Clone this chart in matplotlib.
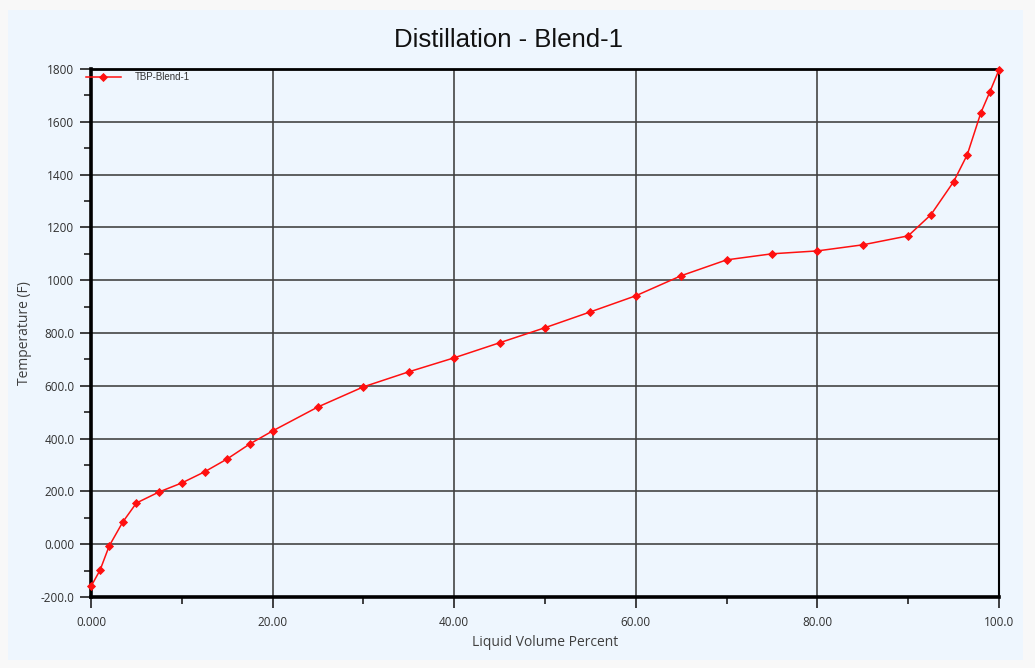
import matplotlib
matplotlib.use("Agg")
import matplotlib.pyplot as plt
from matplotlib.patches import Rectangle
from matplotlib.ticker import MultipleLocator, FixedLocator, FixedFormatter

volume_pct = [0, 1, 2, 3.5, 5, 7.5, 10, 12.5, 15, 17.5, 20, 25, 30, 35, 40, 45, 50,
              55, 60, 65, 70, 75, 80, 85, 90, 92.5, 95, 96.5, 98, 99, 100]
temperature_f = [-160, -98, -7, 84, 156, 198, 232, 274, 323, 380, 429, 520, 596, 653,
                 706, 763, 820, 880, 941, 1017, 1077, 1100, 1111, 1134, 1168, 1248,
                 1373, 1475, 1634, 1714, 1797]
series_name = "TBP-Blend-1"

x_ticks = [0, 20, 40, 60, 80, 100]
x_tick_labels = ["0.000", "20.00", "40.00", "60.00", "80.00", "100.0"]
y_ticks = [-200, 0, 200, 400, 600, 800, 1000, 1200, 1400, 1600, 1800]
y_tick_labels = ["-200.0", "0.000", "200.0", "400.0", "600.0", "800.0",
                 "1000", "1200", "1400", "1600", "1800"]

bg = "#eef6fe"
fig = plt.figure(figsize=(10.35, 6.68), dpi=100, facecolor="#f8f8f8")
fig.patches.append(Rectangle((8/1035, 1-660/668), (1023-8)/1035, (660-10)/668,
                             transform=fig.transFigure, facecolor=bg,
                             edgecolor="none", zorder=-10))
ax = fig.add_axes([91/1035, 1-597/668, (999-91)/1035, (597-69)/668])
ax.set_facecolor(bg)

ax.plot(volume_pct, temperature_f, color="#ff1010", lw=1.1, marker="D",
        markersize=4, markeredgewidth=0.6, label=series_name, zorder=5,
        clip_on=False)

ax.set_xlim(0, 100)
ax.set_ylim(-200, 1800)
ax.xaxis.set_major_locator(FixedLocator(x_ticks))
ax.xaxis.set_major_formatter(FixedFormatter(x_tick_labels))
ax.yaxis.set_major_locator(FixedLocator(y_ticks))
ax.yaxis.set_major_formatter(FixedFormatter(y_tick_labels))
ax.xaxis.set_minor_locator(MultipleLocator(10))
ax.yaxis.set_minor_locator(MultipleLocator(100))

for lab in ax.get_xticklabels() + ax.get_yticklabels():
    lab.set_fontfamily("Open Sans")
    lab.set_fontsize(8.5)
    lab.set_color("#303030")

ax.tick_params(which="major", direction="out", length=8, width=1.2, color="#202020")
ax.tick_params(axis="x", which="major", pad=6)
ax.tick_params(axis="y", which="major", pad=4)
ax.tick_params(which="minor", direction="out", length=5, width=1.2, color="#202020")
ax.grid(True, which="major", color="#404040", lw=1.3, alpha=0.9)
ax.set_axisbelow(True)

for side, w in [("left", 2.6), ("bottom", 2.6), ("top", 2.0), ("right", 1.5)]:
    ax.spines[side].set_linewidth(w)
    ax.spines[side].set_color("#000000")

ax.set_xlabel("Liquid Volume Percent", family="Open Sans", fontsize=10,
              color="#404040", labelpad=4)
ax.set_ylabel("Temperature (F)", family="Open Sans", fontsize=10,
              color="#404040", labelpad=6)

fig.text(0.491, 1-40/668, "Distillation - Blend-1", ha="center", va="center",
         family="Liberation Sans", fontsize=18.5, color="#111111")

leg = ax.legend(loc="upper left", bbox_to_anchor=(-0.012, 1.005), frameon=False,
                handlelength=3.6, prop={"family": "Liberation Sans", "size": 7},
                borderaxespad=0.2, handletextpad=1.4)
for t in leg.get_texts():
    t.set_color("#333333")

fig.savefig("out.png", dpi=100, facecolor=fig.get_facecolor())
